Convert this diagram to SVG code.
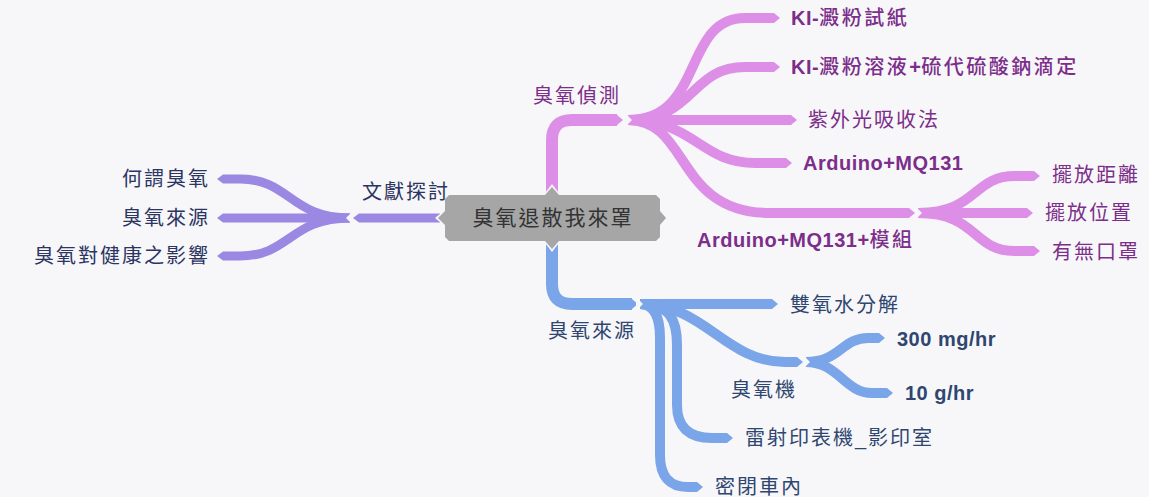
<svg xmlns="http://www.w3.org/2000/svg" width="1149" height="497" viewBox="0 0 1149 497">
<defs>
<style>
.t{font-family:"Liberation Sans","Noto Sans CJK TC",sans-serif;font-size:20px;letter-spacing:2px}
.b{font-weight:bold;letter-spacing:0.5px}
.k{letter-spacing:0.5px}
.m{font-weight:500;letter-spacing:2.5px}
.tp{fill:#7c2e8a}
.tb{fill:#2f4670}
.tl{fill:#2c3462}
.lp{fill:none;stroke:#dd8fe8;stroke-width:10}
.lb{fill:none;stroke:#7aa5e8;stroke-width:10}
.ll{fill:none;stroke:#9a88e2;stroke-width:9}
.bg{fill:#f7f7f9}
</style>
<marker id="mp" markerUnits="userSpaceOnUse" markerWidth="10" markerHeight="12" refX="0" refY="6" orient="auto" viewBox="0 0 10 12"><path d="M0,1 L6,6 L0,11 z" fill="#dd8fe8"/></marker>
<marker id="mb" markerUnits="userSpaceOnUse" markerWidth="10" markerHeight="12" refX="0" refY="6" orient="auto" viewBox="0 0 10 12"><path d="M0,1 L6,6 L0,11 z" fill="#7aa5e8"/></marker>
<marker id="ml" markerUnits="userSpaceOnUse" markerWidth="10" markerHeight="12" refX="0" refY="6" orient="auto" viewBox="0 0 10 12"><path d="M0,1.5 L6,6 L0,10.5 z" fill="#9a88e2"/></marker>
</defs>
<rect width="1149" height="497" fill="#f7f7f9"/>
<g id="connectors">
<path class="lp" style="stroke-width:12" d="M552,200 L552,140 Q552,120 572,120 L617,120" marker-end="url(#mp)"/>
<path class="lp" d="M628,120 C705,120 682,18 745,18 L774,18" marker-end="url(#mp)"/>
<path class="lp" d="M628,120 C695,120 690,67 745,67 L774,67" marker-end="url(#mp)"/>
<path class="lp" d="M628,120 L791,120" marker-end="url(#mp)"/>
<path class="lp" d="M628,120 C695,120 700,163 755,163 L786,163" marker-end="url(#mp)"/>
<path class="lp" d="M628,120 C690,120 675,213 770,213 L909,213" marker-end="url(#mp)"/>
<polygon class="bg" points="625,113 632,120 625,127"/>
<path class="lp" d="M918,213 C978,213 972,176 1015,176 L1034,176" marker-end="url(#mp)"/>
<path class="lp" d="M918,213 L1027,213" marker-end="url(#mp)"/>
<path class="lp" d="M918,213 C978,213 972,251 1015,251 L1034,251" marker-end="url(#mp)"/>
<polygon class="bg" points="915,206 922,213 915,220"/>
<path class="ll" d="M440,218 L359,218" marker-end="url(#ml)"/>
<path class="ll" d="M350,218 C290,218 290,179 240,179 L223,179" marker-end="url(#ml)"/>
<path class="ll" d="M350,218 L223,218" marker-end="url(#ml)"/>
<path class="ll" d="M350,218 C290,218 290,256 240,256 L223,256" marker-end="url(#ml)"/>
<polygon class="bg" points="352,212 346,218 352,224"/>
<path class="lb" style="stroke-width:12" d="M552,236 L552,284 Q552,304 572,304 L632,304" marker-end="url(#mb)"/>
<path class="lb" d="M640,304 L772,304" marker-end="url(#mb)"/>
<path class="lb" d="M640,304 C705,304 725,362 785,362 L797,362" marker-end="url(#mb)"/>
<path class="lb" d="M640,304 C670,304 677,320 677,345 L677,405 Q677,438 712,438 L727,438" marker-end="url(#mb)"/>
<path class="lb" d="M640,304 C655,304 660,318 660,338 L660,455 Q660,487 688,487 L697,487" marker-end="url(#mb)"/>
<polygon class="bg" points="636,297 643,304 636,311"/>
<path class="lb" d="M806,362 C840,362 842,338 868,338 L879,338" marker-end="url(#mb)"/>
<path class="lb" d="M806,362 C838,362 845,393 872,393 L887,393" marker-end="url(#mb)"/>
<polygon class="bg" points="803,355 810,362 803,369"/>
</g>
<g id="center">
<polygon class="bg" points="542,197 552,184 562,197"/>
<polygon class="bg" points="542,239 552,252 562,239"/>
<polygon class="bg" points="447,208 435,218 447,228"/>
<polygon fill="#a6a6a6" points="449,195 545,195 552,187 559,195 656,195 660,199 660,211 666,218 660,225 660,237 656,241 559,241 552,249 545,241 449,241 445,237 445,225 438,218 445,211 445,199"/>
<text class="t" x="553" y="225" text-anchor="middle" style="font-size:21px;fill:#333">臭氧退散我來罩</text>
</g>
<g id="n-detect"><text class="t tp" x="533" y="103">臭氧偵測</text></g>
<g id="n-ki1"><text class="t tp b k" x="791" y="25">KI-<tspan class="m">澱粉試紙</tspan></text></g>
<g id="n-ki2"><text class="t tp b k" x="791" y="74">KI-<tspan class="m">澱粉溶液</tspan>+<tspan class="m">硫代硫酸鈉滴定</tspan></text></g>
<g id="n-uv"><text class="t tp" x="808" y="127">紫外光吸收法</text></g>
<g id="n-ard"><text class="t tp b" x="803" y="170">Arduino+MQ131</text></g>
<g id="n-ardmod"><text class="t tp b" x="697" y="247">Arduino+MQ131+<tspan class="m">模組</tspan></text></g>
<g id="n-dist"><text class="t tp" x="1052" y="182">擺放距離</text></g>
<g id="n-pos"><text class="t tp" x="1045" y="220">擺放位置</text></g>
<g id="n-mask"><text class="t tp" x="1052" y="259">有無口罩</text></g>
<g id="n-lit"><text class="t tl" x="362" y="199">文獻探討</text></g>
<g id="n-what"><text class="t tl" x="210" y="186" text-anchor="end">何謂臭氧</text></g>
<g id="n-src1"><text class="t tl" x="210" y="225" text-anchor="end">臭氧來源</text></g>
<g id="n-health"><text class="t tl" x="210" y="263" text-anchor="end">臭氧對健康之影響</text></g>
<g id="n-src"><text class="t tb" x="548" y="338">臭氧來源</text></g>
<g id="n-h2o2"><text class="t tb" x="790" y="312">雙氧水分解</text></g>
<g id="n-gen"><text class="t tb" x="731" y="397">臭氧機</text></g>
<g id="n-300"><text class="t tb b" x="897" y="346">300 mg/hr</text></g>
<g id="n-10"><text class="t tb b" x="905" y="400">10 g/hr</text></g>
<g id="n-laser"><text class="t tb" x="745" y="445">雷射印表機_影印室</text></g>
<g id="n-car"><text class="t tb" x="715" y="494">密閉車內</text></g>
</svg>
